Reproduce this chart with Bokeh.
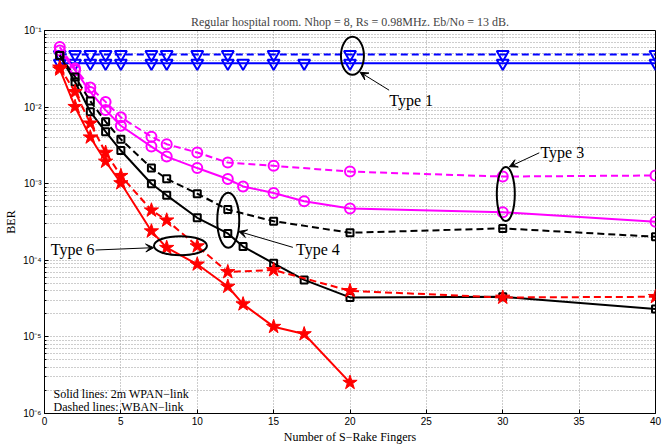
from bokeh.plotting import figure
from bokeh.models import (Range1d, FixedTicker, CustomJSTickFormatter, Arrow, VeeHead, Label,
                          ColumnDataSource)
from bokeh.embed import file_html
from bokeh.resources import INLINE

# ---------------- data ----------------
fingers_solid = [1, 2, 3, 4, 5, 7, 8, 10, 12, 13, 15, 17, 20, 30, 40]
fingers_dashed = [1, 2, 3, 4, 5, 7, 8, 10, 12, 15, 20, 30, 40]
fingers_t6_solid = [1, 2, 3, 4, 5, 7, 8, 10, 12, 13, 15, 17, 20]

# Type 1 (blue)
t1_solid = [0.0375] * 15
t1_dashed = [0.0485] * 13
# Type 3 (magenta)
t3_solid = [0.055, 0.0303, 0.0158, 0.00914, 0.00571, 0.00305, 0.00226, 0.00160,
            0.00115, 0.000922, 0.000757, 0.000589, 0.000473, 0.000424, 0.000318]
t3_dashed = [0.0607, 0.0319, 0.0180, 0.0117, 0.00735, 0.00411, 0.00328, 0.00255,
             0.00189, 0.00171, 0.00144, 0.00124, 0.00128]
# Type 4 (black)
t4_solid = [0.0473, 0.0213, 0.00869, 0.00477, 0.00271, 0.00100, 0.000705, 0.000359,
            0.000224, 0.000151, 0.0000914, 0.0000555, 0.0000328, 0.0000334, 0.0000231]
t4_dashed = [0.0473, 0.0248, 0.01197, 0.00646, 0.00380, 0.00160, 0.00116, 0.000741,
             0.000459, 0.000324, 0.000229, 0.000261, 0.000203]
# Type 6 (red)
t6_solid = [0.0312, 0.0101, 0.00404, 0.00195, 0.00102, 0.000240, 0.000146, 0.0000887,
            0.0000455, 0.0000268, 0.0000136, 0.0000109, 0.00000253]
t6_dashed = [0.033, 0.0158, 0.00614, 0.00255, 0.00127, 0.000450, 0.000333, 0.000153,
             0.0000705, 0.0000748, 0.0000399, 0.0000327, 0.0000334]

x_ticks = [0, 5, 10, 15, 20, 25, 30, 35, 40]
y_decades = [1e-6, 1e-5, 1e-4, 1e-3, 1e-2, 1e-1]

title_text = "Regular hospital room. Nhop = 8, Rs = 0.98MHz. Eb/No = 13 dB."
x_label = "Number of S\u2212Rake Fingers"
y_label = "BER"
note_lines = ["Solid lines: 2m WPAN\u2212link", "Dashed lines: WBAN\u2212link"]

# annotations: (label, ellipse_x, ellipse_y, ell_w, ell_h, arrow_x0, arrow_y0, arrow_x1, arrow_y1, text_x, text_y)
annotations = [
    ("Type 1", 20.16, 0.0467, 23, 38, 22.56, 0.01663, 20.66, 0.0285, 24.0, 0.01233),
    ("Type 3", 30.2, 0.000731, 18, 54, 32.39, 0.00253, 30.43, 0.001664, 33.9, 0.00253),
    ("Type 4", 12.03, 0.000333, 22, 55, 16.26, 0.0001476, 12.72, 0.000238, 17.9, 0.000139),
    ("Type 6", 8.9, 0.000155, 53, 19, 3.34, 0.0001362, 7.15, 0.0001462, 1.84, 0.000139),
]

SERIF = "Liberation Serif"
SANS = "Liberation Sans"

p = figure(width=663, height=446, output_backend="svg", toolbar_location=None,
           y_axis_type="log", x_range=Range1d(0, 40), y_range=Range1d(1e-6, 1e-1),
           min_border_left=44, min_border_right=8, min_border_top=30, min_border_bottom=32)

p.title.text = title_text
p.title.align = "center"
p.title.text_font = SERIF
p.title.text_font_size = "12px"
p.title.text_font_style = "normal"
p.title.standoff = 4

p.outline_line_color = "black"
p.outline_line_width = 1
p.background_fill_color = "white"
p.border_fill_color = "white"

minor_y = [d * k for d in y_decades[:-1] for k in range(2, 10)]
yticker = FixedTicker(ticks=y_decades, minor_ticks=minor_y)
xticker = FixedTicker(ticks=x_ticks)

fmt = CustomJSTickFormatter(code="""
const e = Math.round(Math.log10(tick));
const sup = {'-':'\u207b','0':'\u2070','1':'\u00b9','2':'\u00b2','3':'\u00b3','4':'\u2074','5':'\u2075','6':'\u2076','7':'\u2077','8':'\u2078','9':'\u2079'};
return '10' + String(e).split('').map(c => sup[c]).join('');
""")

xa = p.xaxis[0]
xa.ticker = xticker
xa.axis_label = x_label
ya = p.yaxis[0]
ya.ticker = yticker
ya.formatter = fmt
ya.axis_label = y_label
for ax in (xa, ya):
    ax.major_tick_in = 4
    ax.major_tick_out = 0
    ax.minor_tick_in = 2
    ax.minor_tick_out = 0
    ax.axis_line_color = "black"
    ax.major_label_text_font = SANS
    ax.major_label_text_font_size = "10px"
    ax.major_label_text_color = "black"
    ax.axis_label_text_font = SERIF
    ax.axis_label_text_font_size = "12px"
    ax.axis_label_text_font_style = "normal"
    ax.axis_label_text_color = "black"
    ax.major_label_standoff = 3
    ax.axis_label_standoff = 2
xa.minor_tick_line_color = None

p.xgrid.ticker = xticker
p.ygrid.ticker = yticker
for g in (p.xgrid[0], p.ygrid[0]):
    g.grid_line_color = "#9a9a9a"
    g.grid_line_dash = "1 2"
    g.grid_line_width = 1
p.ygrid.minor_grid_line_color = "#9a9a9a"
p.ygrid.minor_grid_line_dash = "1 2"

DASH = "7 4"
LW = 2

def series(x, y, color, marker, dashed, size, filled=False):
    src = ColumnDataSource(dict(x=x, y=y))
    p.line("x", "y", source=src, line_color=color, line_width=LW,
           line_dash=DASH if dashed else "solid")
    p.scatter("x", "y", source=src, marker=marker, size=size, line_color=color,
              line_width=LW if not filled else 1,
              fill_color=color if filled else None)

series(fingers_solid, t1_solid, "#0000ff", "inverted_triangle", False, 12)
series(fingers_dashed, t1_dashed, "#0000ff", "inverted_triangle", True, 12)
series(fingers_solid, t3_solid, "#ff00ff", "circle", False, 10)
series(fingers_dashed, t3_dashed, "#ff00ff", "circle", True, 10)
series(fingers_solid, t4_solid, "#000000", "square", False, 7)
series(fingers_dashed, t4_dashed, "#000000", "square", True, 7)
series(fingers_t6_solid, t6_solid, "#ff0000", "star", False, 15, filled=True)
series(fingers_dashed, t6_dashed, "#ff0000", "star", True, 15, filled=True)

for (lab, ex, ey, ew, eh, ax0, ay0, ax1, ay1, tx, ty) in annotations:
    p.ellipse(x=[ex], y=[ey], width=[ew], height=[eh], width_units="screen",
              height_units="screen", fill_color=None, line_color="black", line_width=2)
    p.add_layout(Arrow(x_start=ax0, y_start=ay0, x_end=ax1, y_end=ay1,
                       line_color="black", line_width=1,
                       end=VeeHead(size=8, line_color="black", fill_color="black", line_width=1)))
    p.add_layout(Label(x=tx, y=ty, text=lab, text_font=SERIF, text_font_size="16px",
                       text_align="center", text_baseline="middle", text_color="black"))

note_y = [1.82e-6, 1.23e-6]
for t, yy in zip(note_lines, note_y):
    p.add_layout(Label(x=0.59, y=yy, text=t, text_font=SERIF,
                       text_font_size="12px", text_align="left", text_baseline="middle",
                       text_color="black"))

open("out.html", "w").write(file_html(p, INLINE))
